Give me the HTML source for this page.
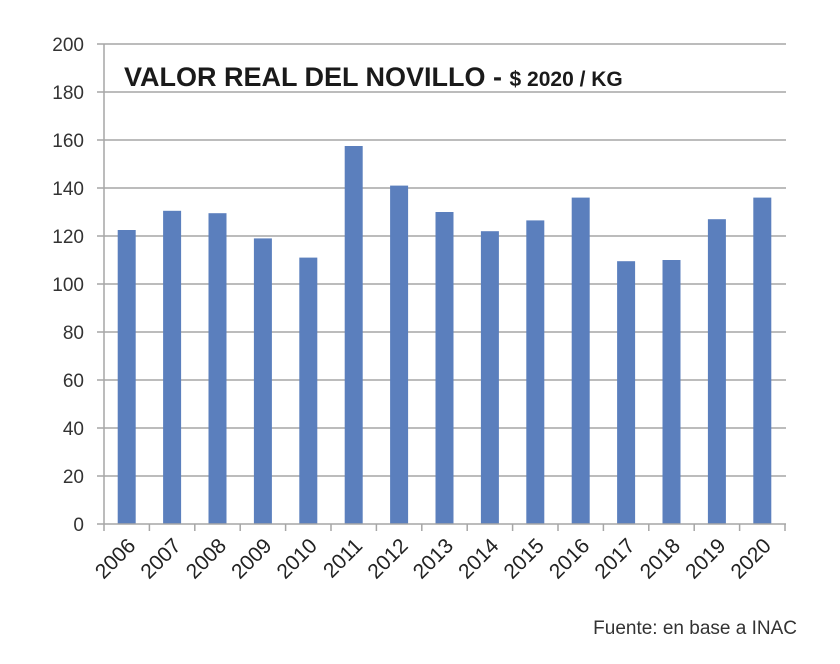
<!DOCTYPE html><html><head><style>body{margin:0;background:#fff}</style></head><body>
<svg width="840" height="659" xmlns="http://www.w3.org/2000/svg" font-family="Liberation Sans, sans-serif">
<rect width="840" height="659" fill="#fff"/>
<g stroke="#a6a6a6" stroke-width="1.5">
<line x1="97" y1="44" x2="786" y2="44"/><line x1="97" y1="92" x2="786" y2="92"/><line x1="97" y1="140" x2="786" y2="140"/><line x1="97" y1="188" x2="786" y2="188"/><line x1="97" y1="236" x2="786" y2="236"/><line x1="97" y1="284" x2="786" y2="284"/><line x1="97" y1="332" x2="786" y2="332"/><line x1="97" y1="380" x2="786" y2="380"/><line x1="97" y1="428" x2="786" y2="428"/><line x1="97" y1="476" x2="786" y2="476"/>
<line x1="104" y1="44" x2="104" y2="524"/>
</g>
<g fill="#5b7fbd" id="bars"></g>
<g stroke="#a6a6a6" stroke-width="1.5" id="ticks"><line x1="97" y1="524" x2="786" y2="524"/></g>
<g font-size="19" fill="#333" text-anchor="end">
<text x="84" y="531">0</text><text x="84" y="483">20</text><text x="84" y="435">40</text><text x="84" y="387">60</text><text x="84" y="339">80</text><text x="84" y="291">100</text><text x="84" y="243">120</text><text x="84" y="195">140</text><text x="84" y="147">160</text><text x="84" y="99">180</text><text x="84" y="51">200</text>
</g>
<g font-size="21" fill="#222" text-anchor="end" id="xl"></g>
<text x="124" y="86" font-size="27" font-weight="bold" fill="#1a1a1a">VALOR REAL DEL NOVILLO - <tspan font-size="21">$ 2020 / KG</tspan></text>
<text x="797" y="634" font-size="19" fill="#333" text-anchor="end">Fuente: en base a INAC</text>
<script>
var v=[122.5,130.5,129.5,119,111,157.5,141,130,122,126.5,136,109.5,110,127,136];
var b=document.getElementById('bars'),t=document.getElementById('ticks'),xl=document.getElementById('xl'),ns='http://www.w3.org/2000/svg';
var w=45.4;
for(var i=0;i<15;i++){var cx=104+w*(i+0.5);var r=document.createElementNS(ns,'rect');r.setAttribute('x',cx-9);r.setAttribute('width',18);var h=v[i]*2.4;r.setAttribute('y',524-h);r.setAttribute('height',h);b.appendChild(r);
var l=document.createElementNS(ns,'line');var tx=104+w*i;l.setAttribute('x1',tx);l.setAttribute('x2',tx);l.setAttribute('y1',524);l.setAttribute('y2',531);t.appendChild(l);
var s=document.createElementNS(ns,'text');s.setAttribute('transform','translate('+(cx+10)+',547) rotate(-45)');s.textContent=2006+i;xl.appendChild(s);}
var l=document.createElementNS(ns,'line');l.setAttribute('x1',785);l.setAttribute('x2',785);l.setAttribute('y1',524);l.setAttribute('y2',531);t.appendChild(l);
</script>
</svg></body></html>
